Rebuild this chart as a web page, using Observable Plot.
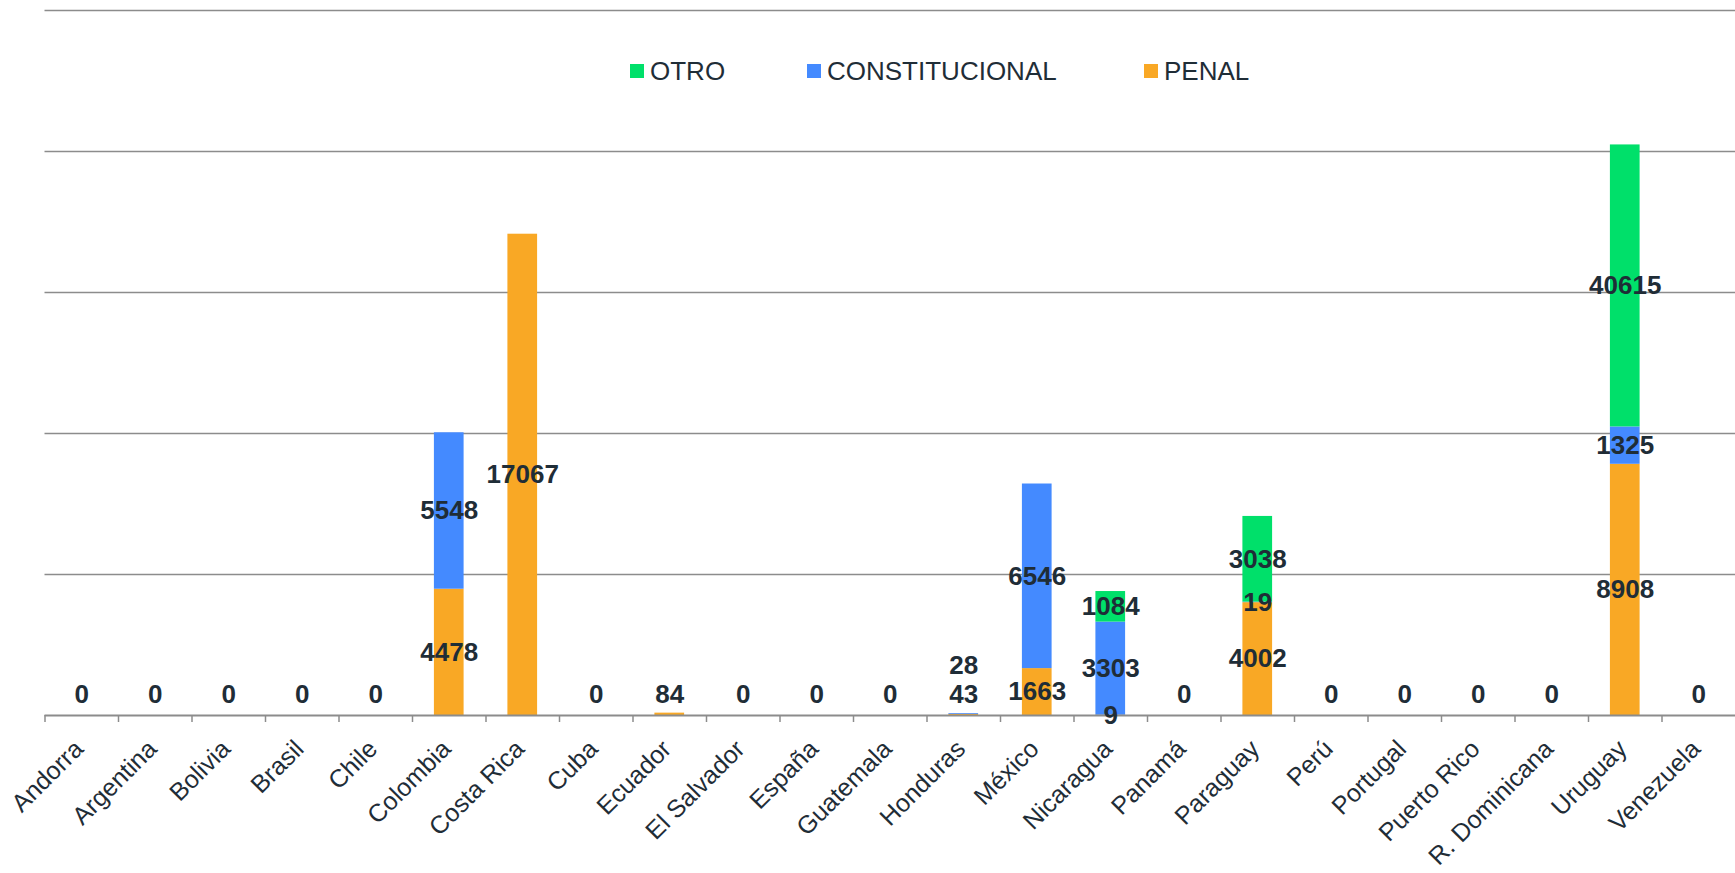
<!DOCTYPE html>
<html>
<head>
<meta charset="utf-8">
<script src="https://cdn.jsdelivr.net/npm/d3@7"></script>
<script src="https://cdn.jsdelivr.net/npm/@observablehq/plot@0.6"></script>
<style>
  html, body { margin: 0; padding: 0; background: #ffffff; overflow: hidden; }
  #wrap { position: relative; width: 1735px; height: 873px; }
  #legend { position: absolute; left: 0; top: 0; width: 100%; height: 0;
            font-family: "Liberation Sans", Arial, sans-serif; font-size: 26px; color: #1f2d37; }
  .item { position: absolute; top: 56px; height: 30px; line-height: 30px; display: flex; align-items: center; white-space: nowrap; }
  .sw { width: 14px; height: 14px; margin-right: 6px; flex: none; }
  svg { display: block; }
</style>
</head>
<body>
<div id="wrap"><div id="legend"></div></div>
<script>
// ---- data ----
const countries = ["Andorra", "Argentina", "Bolivia", "Brasil", "Chile", "Colombia", "Costa Rica", "Cuba",
  "Ecuador", "El Salvador", "España", "Guatemala", "Honduras", "México", "Nicaragua", "Panamá",
  "Paraguay", "Perú", "Portugal", "Puerto Rico", "R. Dominicana", "Uruguay", "Venezuela"];
const series = ["PENAL", "CONSTITUCIONAL", "OTRO"];
const legendOrder = ["OTRO", "CONSTITUCIONAL", "PENAL"];
const seriesColors = ["#f9a825", "#448aff", "#00e06a"];
const penal          = [0, 0, 0, 0, 0, 4478, 17067, 0, 84, 0, 0, 0, 43, 1663, 9, 0, 4002, 0, 0, 0, 0, 8908, 0];
const constitucional = [0, 0, 0, 0, 0, 5548, 0, 0, 0, 0, 0, 0, 28, 6546, 3303, 0, 19, 0, 0, 0, 0, 1325, 0];
// bar heights of OTRO as drawn (Uruguay's bar is drawn much shorter than its printed label)
const otro           = [0, 0, 0, 0, 0, 0, 0, 0, 0, 0, 0, 0, 0, 0, 1084, 0, 3038, 0, 0, 0, 0, 10000, 0];
// printed labels of OTRO
const otroLabels     = [0, 0, 0, 0, 0, 0, 0, 0, 0, 0, 0, 0, 0, 0, 1084, 0, 3038, 0, 0, 0, 0, 40615, 0];
const yGrid = [5000, 10000, 15000, 20000, 25000];
const yMax = 25000;

// ---- layout ----
const W = 1735, H = 873;
const mL = 44.5, mR = 0, mT = 10, mB = 158;
const step = (W - mL - mR) / countries.length;
const font = "'Liberation Sans', Arial, sans-serif";
const ink = "#1f2d37";
const grey = "#8c8c8c";

// ---- tables ----
const valueCols = [penal, constitucional, otro];
const labelCols = [penal, constitucional, otroLabels];
const rows = countries.flatMap((c, i) => series.map((s, j) => ({country: c, series: s, value: valueCols[j][i]})));

const normalLabels = [];
const smallLabels = [];
countries.forEach((c, i) => {
  const total = valueCols.reduce((a, col) => a + col[i], 0);
  let base = 0, k = 0;
  series.forEach((s, j) => {
    const v = valueCols[j][i];
    const t = labelCols[j][i];
    if (v > 0) {
      if (total >= 500) normalLabels.push({country: c, y: base + v / 2, text: String(t)});
      else smallLabels.push({country: c, k: k++, text: String(t)});
    }
    base += v;
  });
  if (total === 0) smallLabels.push({country: c, k: 0, text: "0"});
});

const chart = Plot.plot({
  width: W, height: H,
  marginLeft: mL, marginRight: mR, marginTop: mT, marginBottom: mB,
  style: {fontFamily: font, background: "#ffffff", overflow: "visible"},
  x: {domain: countries, paddingInner: 0.596, paddingOuter: 0.298, round: false, axis: null},
  y: {domain: [0, yMax], axis: null},
  color: {domain: series, range: seriesColors},
  marks: [
    Plot.ruleY(yGrid, {stroke: grey, strokeWidth: 1.5}),
    Plot.barY(rows, {x: "country", y: "value", fill: "series"}),
    Plot.ruleY([0], {stroke: grey, strokeWidth: 2}),
    Plot.ruleX(countries, {x: d => d, y1: 0, y2: 0, insetBottom: -7, dx: -step / 2, stroke: grey, strokeWidth: 1.5}),
    Plot.text(countries, {x: d => d, y: 0, text: d => d, rotate: -45, textAnchor: "end", lineAnchor: "bottom",
      dx: 3, dy: 35, fontSize: 25, fill: ink}),
    Plot.text(normalLabels, {x: "country", y: "y", text: "text", fontSize: 26, fontWeight: "bold", fill: ink, lineAnchor: "middle"}),
    Plot.text(smallLabels.filter(d => d.k === 0), {x: "country", y: 0, text: "text", dy: -21, fontSize: 26, fontWeight: "bold", fill: ink, lineAnchor: "middle"}),
    Plot.text(smallLabels.filter(d => d.k === 1), {x: "country", y: 0, text: "text", dy: -49.5, fontSize: 26, fontWeight: "bold", fill: ink, lineAnchor: "middle"})
  ]
});
document.getElementById("wrap").appendChild(chart);

// ---- legend ----
const legendX = {"OTRO": 630, "CONSTITUCIONAL": 807, "PENAL": 1144};
const legend = document.getElementById("legend");
legendOrder.forEach(s => {
  const it = document.createElement("div");
  it.className = "item";
  it.style.left = legendX[s] + "px";
  const sw = document.createElement("span");
  sw.className = "sw";
  sw.style.background = seriesColors[series.indexOf(s)];
  const tx = document.createElement("span");
  tx.textContent = s;
  it.appendChild(sw); it.appendChild(tx);
  legend.appendChild(it);
});
</script>
</body>
</html>
